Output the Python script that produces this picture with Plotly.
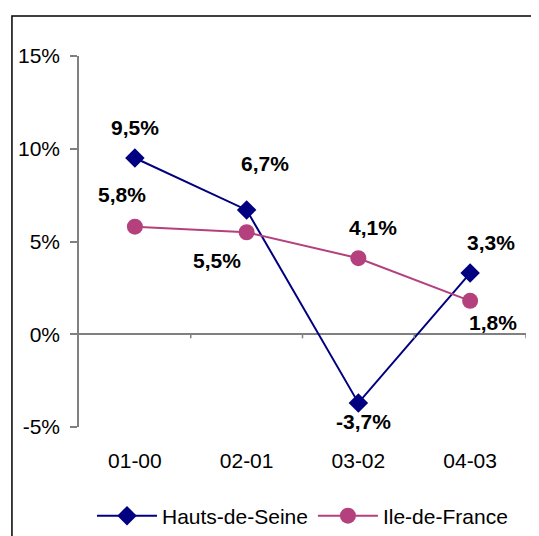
import plotly.graph_objects as go

categories = ["01-00", "02-01", "03-02", "04-03"]
hds_values = [9.5, 6.7, -3.7, 3.3]
idf_values = [5.8, 5.5, 4.1, 1.8]
hds_labels = ["9,5%", "6,7%", "-3,7%", "3,3%"]
idf_labels = ["5,8%", "5,5%", "4,1%", "1,8%"]
y_ticks = [-5, 0, 5, 10, 15]
y_ticktext = ["-5%", "0%", "5%", "10%", "15%"]

NAVY = "#000080"
PINK = "#B4407D"
FONT = "Liberation Sans, Arial, sans-serif"

fig = go.Figure()
fig.add_trace(go.Scatter(
    x=categories, y=hds_values, name="Hauts-de-Seine", mode="lines+markers",
    line=dict(color=NAVY, width=2),
    marker=dict(symbol="diamond", size=15, color=NAVY),
))
fig.add_trace(go.Scatter(
    x=categories, y=idf_values, name="Ile-de-France", mode="lines+markers",
    line=dict(color=PINK, width=2),
    marker=dict(symbol="circle", size=16, color=PINK),
))

hds_shifts = [(0, 31), (18, 46), (5, -19), (21, 31)]
idf_shifts = [(-13, 32), (-30, -28), (15, 31), (23, -22)]
for cat, val, lab, (dx, dy) in zip(categories, hds_values, hds_labels, hds_shifts):
    fig.add_annotation(x=cat, y=val, text=lab, showarrow=False, xshift=dx, yshift=dy,
                       font=dict(family=FONT, size=21, color="black", weight="bold"))
for cat, val, lab, (dx, dy) in zip(categories, idf_values, idf_labels, idf_shifts):
    fig.add_annotation(x=cat, y=val, text=lab, showarrow=False, xshift=dx, yshift=dy,
                       font=dict(family=FONT, size=21, color="black", weight="bold"))

# category boundary tick marks on the zero line
for b in [0.5, 1.5, 2.5, 3.5]:
    fig.add_shape(type="line", xref="x", yref="y", x0=b, x1=b, y0=0, y1=-0.22,
                  line=dict(color="#808080", width=1.5))

# outer frame
fig.add_shape(type="rect", xref="paper", yref="paper", x0=-0.15, x1=1.2,
              y0=-0.4, y1=1.108, line=dict(color="black", width=1.5), layer="below")

fig.update_layout(
    width=531, height=536,
    margin=dict(l=71, r=13, t=48, b=117, autoexpand=False),
    paper_bgcolor="white", plot_bgcolor="white",
    font=dict(family=FONT, size=21, color="black"),
    showlegend=True,
    legend=dict(orientation="h", x=0.5, xanchor="center", y=-0.24, yanchor="middle",
                font=dict(family=FONT, size=21), itemwidth=60, tracegroupgap=0),
    xaxis=dict(type="category", range=[-0.5, 3.5], showgrid=False, showline=False,
               zeroline=False, ticks="", ticklabelstandoff=19, automargin=False,
               tickfont=dict(family=FONT, size=21)),
    yaxis=dict(range=[-5, 15], tickvals=y_ticks, ticktext=y_ticktext, showgrid=False,
               showline=True, linecolor="#808080", linewidth=1.5, automargin=False,
               ticks="outside", ticklen=7, tickcolor="#808080", tickwidth=1.5,
               zeroline=True, zerolinecolor="#808080", zerolinewidth=1.5,
               ticklabelstandoff=6, tickfont=dict(family=FONT, size=21)),
)

fig.write_html("out.html")
